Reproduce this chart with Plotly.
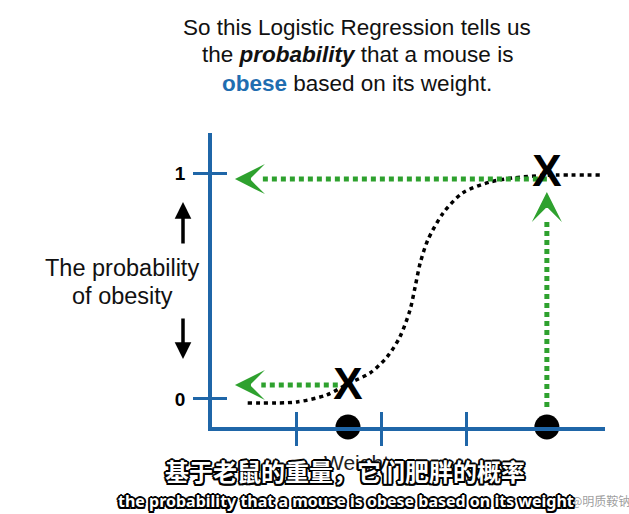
import plotly.graph_objects as go

# ---- data ----
curve_weight = [0.42, 1.00, 1.35, 1.62, 1.86, 2.06, 2.21, 2.33, 2.39, 2.45, 2.54, 2.72, 2.95, 3.27, 3.54, 3.94, 4.59]
curve_prob = [-0.018, -0.013, 0.018, 0.071, 0.115, 0.186, 0.274, 0.394, 0.496, 0.602, 0.704, 0.823, 0.912, 0.960, 0.978, 0.990, 0.991]
mouse_weight = [1.60, 3.94]
mouse_prob = [0.049, 0.991]
x_ticks = [1, 2, 3]
y_ticks = [0, 1]
y_tick_labels = ["0", "1"]

BLUE = "#1f66a8"
GREEN = "#2ea12e"
FONT = "Liberation Sans, Arial, sans-serif"

X_RANGE = [0, 4.624]
Y_RANGE = [-0.124, 1.177]

# plot area in pixels
L, R, T, B = 212, 605, 133, 427


def px(x, y):
    return (x - L) / (R - L), (B - y) / (B - T)


fig = go.Figure()

# sigmoid (dotted black)
fig.add_trace(go.Scatter(x=curve_weight, y=curve_prob, mode="lines",
                         line=dict(color="black", width=3.5, dash="4px,4px", shape="spline", smoothing=0.8),
                         hoverinfo="skip", showlegend=False))

# green dashed guide lines
fig.add_trace(go.Scatter(x=[mouse_weight[1], 0.58], y=[0.973, 0.973], mode="lines",
                         line=dict(color=GREEN, width=5, dash="5px,4px"), showlegend=False))
fig.add_trace(go.Scatter(x=[1.48, 0.58], y=[0.062, 0.062], mode="lines",
                         line=dict(color=GREEN, width=5, dash="5px,4px"), showlegend=False))
fig.add_trace(go.Scatter(x=[mouse_weight[1], mouse_weight[1]], y=[-0.035, 0.80], mode="lines",
                         line=dict(color=GREEN, width=5, dash="5px,4px"), showlegend=False))

# mice on the x axis
fig.add_trace(go.Scatter(x=mouse_weight, y=[Y_RANGE[0]] * 2, mode="markers",
                         marker=dict(color="black", size=25), cliponaxis=False, showlegend=False))

# X markers on curve
fig.add_trace(go.Scatter(x=mouse_weight, y=mouse_prob, mode="text", text=["X", "X"],
                         textposition="middle center",
                         textfont=dict(family=FONT, size=44, color="black", weight="bold"),
                         cliponaxis=False, showlegend=False))

# invisible trace for overlay axes (inside ticks)
fig.add_trace(go.Scatter(x=[1], y=[0], xaxis="x2", yaxis="y2", mode="markers",
                         marker=dict(opacity=0), showlegend=False, hoverinfo="skip"))

annotations = []
# green arrow heads
for tip_x, tip_y, ax, ay in [(0.27, 0.973, 0.40, 0.973), (0.27, 0.062, 0.40, 0.062),
                             (mouse_weight[1], 0.916, mouse_weight[1], 0.85)]:
    annotations.append(dict(x=tip_x, y=tip_y, ax=ax, ay=ay, xref="x", yref="y", axref="x", ayref="y",
                            text="", showarrow=True, arrowhead=3, arrowwidth=2, arrowsize=2.5,
                            arrowcolor=GREEN))

# black up / down arrows
ax_p, _ = px(183, 0)
for (y_tip, y_tail) in [(202, 245), (359, 317)]:
    _, yt = px(0, y_tip)
    annotations.append(dict(x=ax_p, y=yt, ax=0, ay=y_tail - y_tip, xref="paper", yref="paper",
                            axref="pixel", ayref="pixel", text="", showarrow=True,
                            arrowhead=2, arrowwidth=3.5, arrowsize=0.95, arrowcolor="black"))


def label(text, x, y, font):
    xp, yp = px(x, y)
    annotations.append(dict(x=xp, y=yp, xref="paper", yref="paper", showarrow=False,
                            xanchor="center", yanchor="middle", align="center", text=text, font=font))


# y axis label
ylab_font = dict(family=FONT, size=23.5, color="#111")
label("The probability", 122, 268, ylab_font)
label("of obesity", 122, 296, ylab_font)

# title
title_font = dict(family=FONT, size=22.5, color="#111")
label("So this Logistic Regression tells us", 357, 27, title_font)
label("the <b><i>probability</i></b> that a mouse is", 357, 55, title_font)
label("<b><span style='color:#1f6db0'>obese</span></b> based on its weight.", 357, 83, title_font)

# x label (mostly hidden behind the subtitle, as in the source)
label("Weight", 356, 462, dict(family=FONT, size=21, color="#222"))

# watermark
label("@明质鞍钠", 600, 500, dict(family="Noto Sans CJK SC", size=12, color="rgba(140,140,140,0.85)"))

OUTLINE = "-1.5px -1.5px 0 #000, 1.5px -1.5px 0 #000, -1.5px 1.5px 0 #000, 1.5px 1.5px 0 #000, 0 2px 0 #000, 2px 0 0 #000, -2px 0 0 #000, 0 -2px 0 #000"
# subtitles
label("基于老鼠的重量，它们肥胖的概率", 345, 470,
      dict(family="Noto Sans CJK SC", size=24, color="white", weight="bold", shadow=OUTLINE))
label("the probability that a mouse is obese based on its weight", 346, 501,
      dict(family="Noto Sans, sans-serif", size=16, color="white", weight="bold", shadow=OUTLINE))

common_x = dict(range=X_RANGE, showgrid=False, zeroline=False, showticklabels=False,
                tickmode="array", tickvals=x_ticks, ticklen=15, tickwidth=3, tickcolor=BLUE, fixedrange=True)
common_y = dict(range=Y_RANGE, showgrid=False, zeroline=False,
                tickmode="array", tickvals=y_ticks, ticktext=y_tick_labels,
                ticklen=15, tickwidth=3, tickcolor=BLUE, fixedrange=True)

fig.update_layout(
    width=629, height=514, autosize=False,
    margin=dict(l=L, r=629 - R, t=T, b=514 - B, pad=0),
    paper_bgcolor="white", plot_bgcolor="white",
    xaxis=dict(**common_x, ticks="outside", showline=True, linecolor=BLUE, linewidth=3.5),
    yaxis=dict(**common_y, ticks="outside", showline=True, linecolor=BLUE, linewidth=3.5,
               tickfont=dict(family=FONT, size=19, color="black", weight="bold"), ticklabelstandoff=4),
    xaxis2=dict(**common_x, ticks="inside", overlaying="x", anchor="y2", showline=False),
    yaxis2=dict(**common_y, ticks="inside", overlaying="y", anchor="x2", side="left",
                showline=False, showticklabels=False),
    annotations=annotations,
    showlegend=False,
)

fig.write_html("out.html")
